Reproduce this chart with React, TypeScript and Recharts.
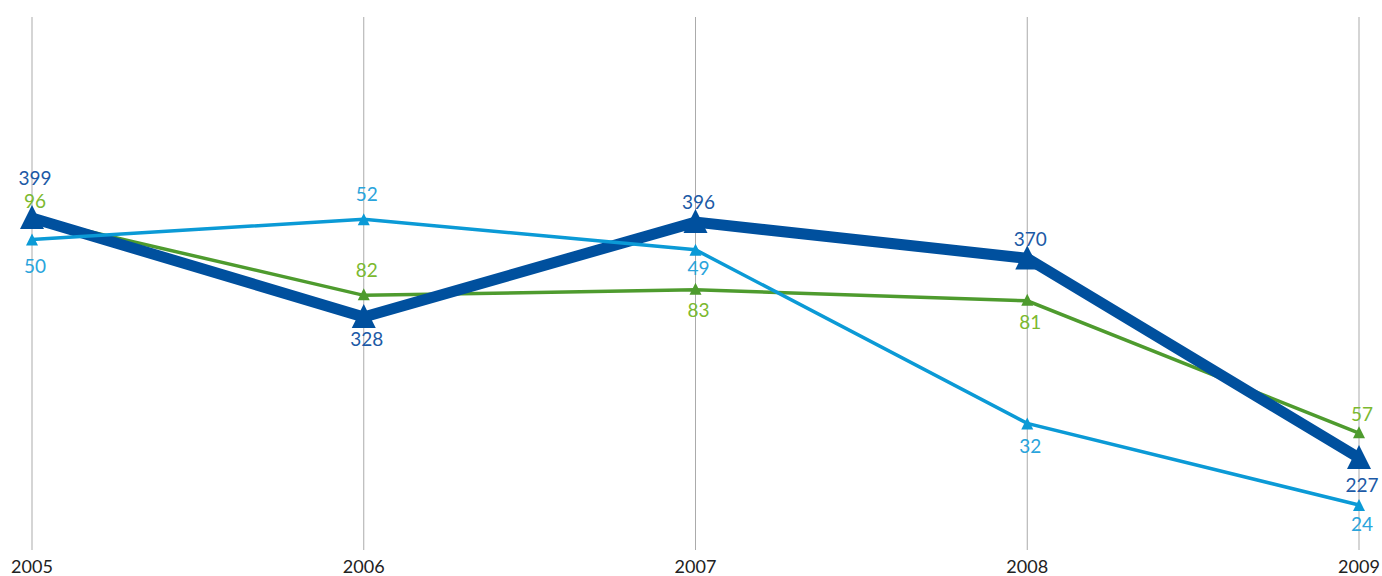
import { LineChart, Line, XAxis, YAxis, CartesianGrid, LabelList } from 'recharts';

// years along the x axis
const years = ['2005', '2006', '2007', '2008', '2009'];

// three series, each on its own hidden scale
const navyValues = [399, 328, 396, 370, 227];
const greenValues = [96, 82, 83, 81, 57];
const cyanValues = [50, 52, 49, 32, 24];

// where each value label sits relative to its point (px, + is below)
const navyLabelDy = [-40, 22, -21, -20, 27];
const greenLabelDy = [-18, -26, 20, 21, -20];
const cyanLabelDy = [26, -26, 18, 22, 18];

const data = years.map((year, i) => ({
  year,
  navy: navyValues[i],
  green: greenValues[i],
  cyan: cyanValues[i],
}));

const FONT = 'Lato, "Open Sans", sans-serif';

const triangleDot = (color: string, half: number, up: number, down: number) => (props: any) => {
  const { cx, cy, index } = props;
  if (cx == null || cy == null) return <g key={`d-${index}`} />;
  return (
    <path
      key={`d-${index}`}
      d={`M${cx},${cy - up} L${cx + half},${cy + down} L${cx - half},${cy + down} Z`}
      fill={color}
      stroke="none"
    />
  );
};

const valueLabel = (color: string, offsets: number[]) => (props: any) => {
  const { x, y, value, index } = props;
  return (
    <text
      key={`l-${index}`}
      x={x + 3}
      y={y + offsets[index]}
      fill={color}
      fontSize={19}
      fontFamily={FONT}
      textAnchor="middle"
      dominantBaseline="central"
    >
      {value}
    </text>
  );
};

const YearTick = (props: any) => {
  const { x, y, payload } = props;
  return (
    <text x={x} y={y + 15} fill="#222" fontSize={18} fontFamily={FONT} textAnchor="middle">
      {payload.value}
    </text>
  );
};

export default function App() {
  return (
    <div style={{ position: 'absolute', left: 0, top: 0, width: 1382, height: 576, overflow: 'hidden' }}>
      <LineChart width={1382} height={576} data={data} margin={{ top: 17, right: 23, bottom: 0, left: 32 }}>
        <CartesianGrid horizontal={false} stroke="#ababab" strokeWidth={1} />
        <XAxis
          dataKey="year"
          axisLine={false}
          tickLine={false}
          height={26}
          interval={0}
          tick={<YearTick />}
        />
        <YAxis yAxisId="navy" hide domain={[161, 543]} allowDataOverflow />
        <YAxis yAxisId="green" hide domain={[35.8, 132.5]} allowDataOverflow />
        <YAxis yAxisId="cyan" hide domain={[19.6, 71.8]} allowDataOverflow />
        <Line
          yAxisId="green"
          dataKey="green"
          stroke="#4e9b2e"
          strokeWidth={3.5}
          type="linear"
          dot={triangleDot('#4e9b2e', 6, 7, 5)}
          activeDot={false}
          isAnimationActive={false}
        >
          <LabelList dataKey="green" content={valueLabel('#7cb92f', greenLabelDy)} />
        </Line>
        <Line
          yAxisId="navy"
          dataKey="navy"
          stroke="#00509e"
          strokeWidth={11}
          strokeLinejoin="miter"
          type="linear"
          dot={triangleDot('#00509e', 12, 13, 11)}
          activeDot={false}
          isAnimationActive={false}
        >
          <LabelList dataKey="navy" content={valueLabel('#1c5aa6', navyLabelDy)} />
        </Line>
        <Line
          yAxisId="cyan"
          dataKey="cyan"
          stroke="#0b9ad6"
          strokeWidth={3.5}
          type="linear"
          dot={triangleDot('#0b9ad6', 6, 6, 6)}
          activeDot={false}
          isAnimationActive={false}
        >
          <LabelList dataKey="cyan" content={valueLabel('#2aa4dc', cyanLabelDy)} />
        </Line>
      </LineChart>
    </div>
  );
}
